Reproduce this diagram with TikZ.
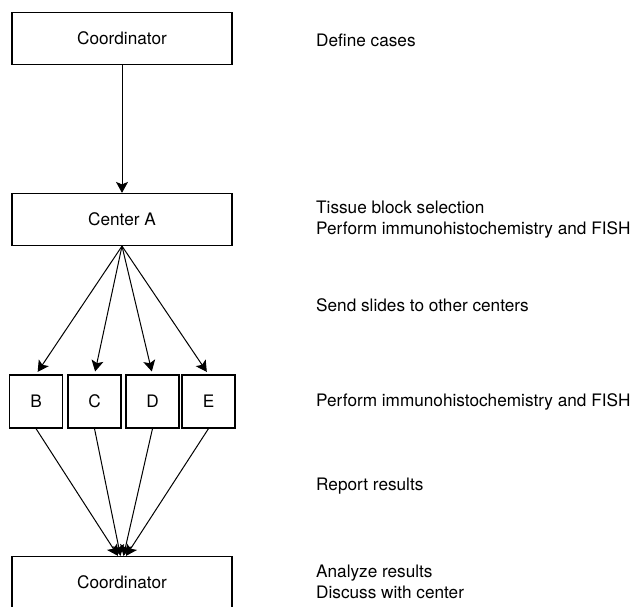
\documentclass[tikz,border=0pt]{standalone}
\usepackage{fontspec}
\setmainfont{TeX Gyre Heros}
\usetikzlibrary{arrows.meta}

\begin{document}
\begin{tikzpicture}[x=1pt, y=-1pt,
    every node/.style={font=\fontsize{17.2}{21}\selectfont},
    wide box/.style={draw, line width=1.2pt, minimum width=220pt, minimum height=52pt, inner sep=0pt},
    site box/.style={draw, line width=1.2pt, minimum width=53pt, minimum height=53pt, inner sep=0pt},
    step note/.style={anchor=west, align=left, inner sep=0pt},
    flow/.style={-{Stealth[length=11pt, width=12pt, inset=2.5pt]}, line width=1pt}]
      \useasboundingbox (0,0) rectangle (632,606);

      \node[wide box] (coord1) at (122, 38.5) {Coordinator};
      \node[wide box] (centerA) at (122, 219.5) {Center A};
      \node[wide box] (coord2) at (122, 582.5) {Coordinator};

      \foreach \name/\x in {B/36, C/94.5, D/152.5, E/208.5} {
          \node[site box] (site\name) at (\x, 401.5) {\name};
      }

      \draw[flow] (coord1) -- (centerA);

      \foreach \name in {B,C,D,E} {
          \draw[flow, shorten >=3pt] (centerA.south) -- (site\name.north);
      }

      \foreach \name/\dx in {B/-4, C/-1.5, D/1.5, E/4} {
          \draw[flow] (site\name.south) -- ([xshift=\dx pt]coord2.north);
      }

      \node[step note] (noteDefine) at (316, 40) {Define cases};
      \node[step note] (noteTissue) at (316, 219.5) {Tissue block selection\\Perform immunohistochemistry and FISH};
      \node[step note] (noteSend) at (316, 305) {Send slides to other centers};
      \node[step note] (notePerform) at (316, 402) {Perform immunohistochemistry and FISH};
      \node[step note] (noteReport) at (316, 486) {Report results};
      \node[step note] (noteAnalyze) at (316, 582) {Analyze results\\Discuss with center};
    \end{tikzpicture}
\end{document}
